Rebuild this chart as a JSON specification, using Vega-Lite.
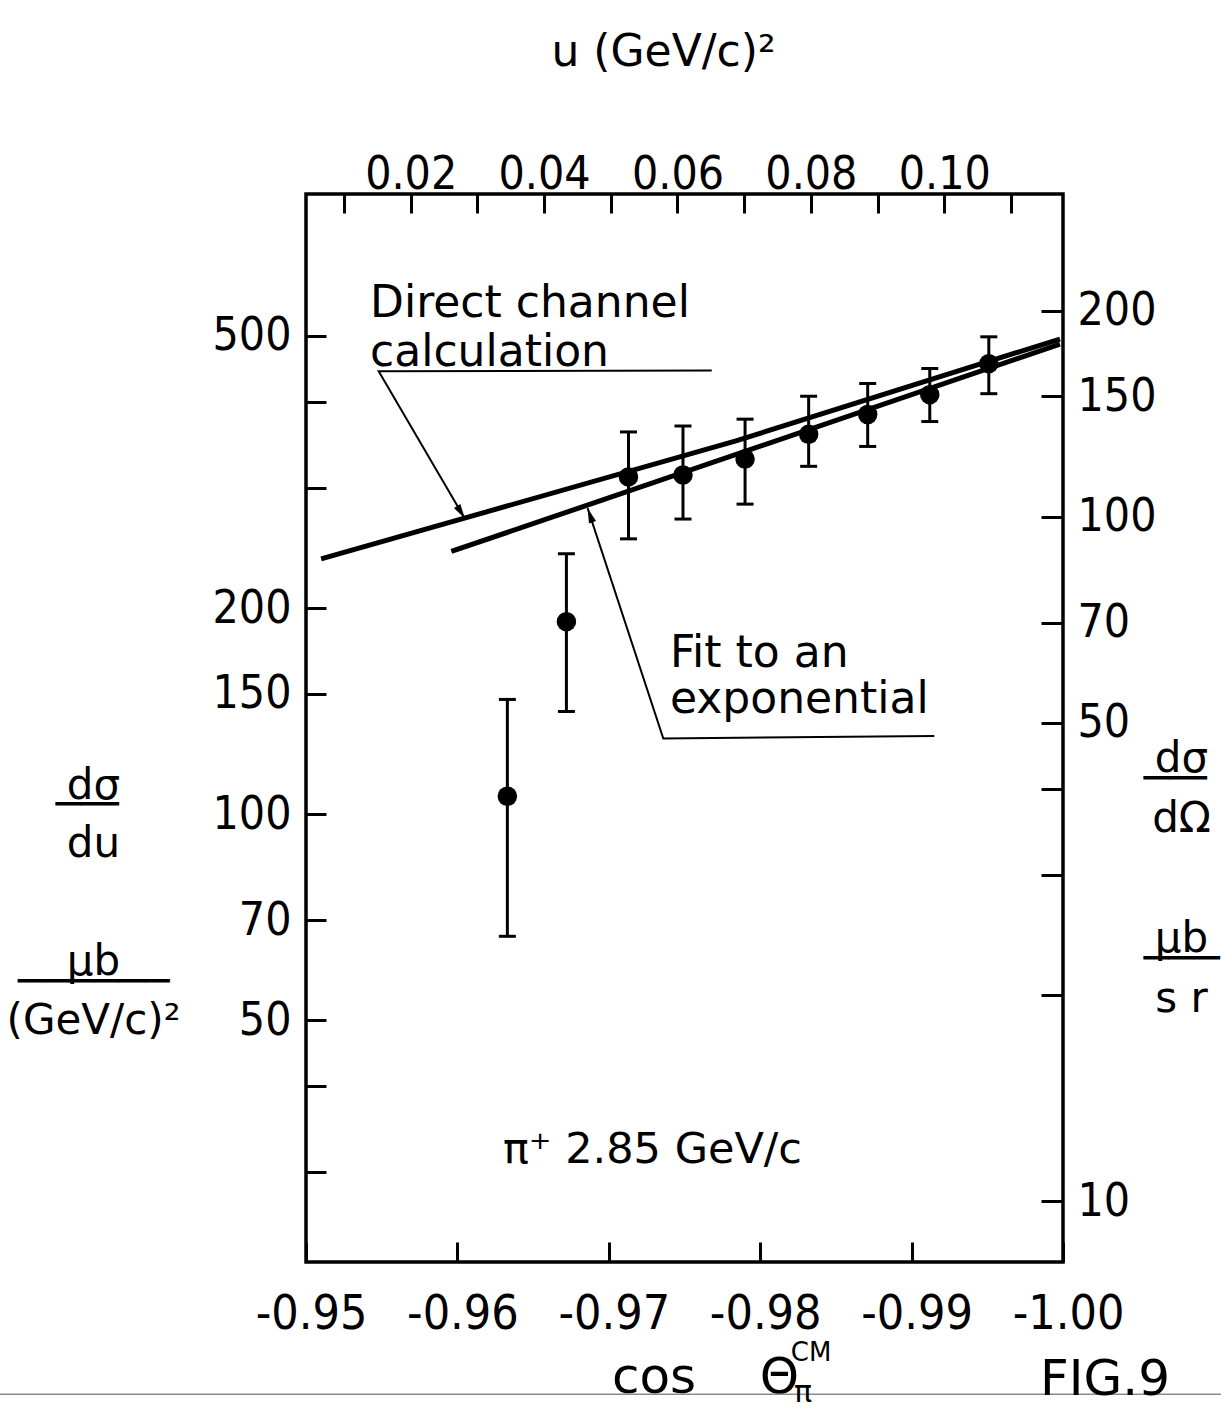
{
  "$schema": "https://vega.github.io/schema/vega-lite/v6.json",
  "width": 757,
  "height": 1068,
  "autosize": {"type": "none"},
  "padding": {"left": 306, "top": 194, "right": 158, "bottom": 148},
  "background": "white",
  "config": {
    "view": {"stroke": "black", "strokeWidth": 3.5},
    "axis": {
      "domain": false,
      "grid": false,
      "tickColor": "black",
      "tickWidth": 3,
      "labelColor": "black",
      "titleColor": "black",
      "labelFont": "DejaVu Sans Condensed, DejaVu Sans, sans-serif",
      "labelFontSize": 46,
      "labelFontWeight": "normal",
      "titleFont": "DejaVu Sans",
      "titleFontWeight": "normal",
      "labelOverlap": false,
      "labelFlush": false,
      "labelBound": false
    }
  },
  "datasets": {
    "points": [
      {"cos": -0.9633, "dsdu": 106.2, "lo": 66.3, "hi": 147.1},
      {"cos": -0.9672, "dsdu": 191.1, "lo": 141.2, "hi": 240.1},
      {"cos": -0.9713, "dsdu": 311.0, "lo": 252.5, "hi": 361.8},
      {"cos": -0.9749, "dsdu": 313.0, "lo": 269.9, "hi": 369.1},
      {"cos": -0.9790, "dsdu": 330.2, "lo": 283.8, "hi": 377.7},
      {"cos": -0.9832, "dsdu": 358.9, "lo": 322.3, "hi": 408.0},
      {"cos": -0.9871, "dsdu": 383.7, "lo": 344.6, "hi": 425.9},
      {"cos": -0.9912, "dsdu": 410.2, "lo": 374.7, "hi": 447.9},
      {"cos": -0.9951, "dsdu": 455.3, "lo": 411.5, "hi": 498.3}
    ],
    "curves": [
      {"curve": "Direct channel calculation", "cos": -0.9510, "dsdu": 236.0},
      {"curve": "Direct channel calculation", "cos": -0.9784, "dsdu": 351.1},
      {"curve": "Direct channel calculation", "cos": -0.9998, "dsdu": 494.6},
      {"curve": "Fit to an exponential", "cos": -0.9596, "dsdu": 242.0},
      {"curve": "Fit to an exponential", "cos": -0.9998, "dsdu": 486.2}
    ],
    "pointers": [
      {"ptr": "direct", "seq": 1, "cos": -0.9768, "dsdu": 444.9},
      {"ptr": "direct", "seq": 2, "cos": -0.9548, "dsdu": 443.9},
      {"ptr": "direct", "seq": 3, "cos": -0.9605, "dsdu": 270.1},
      {"ptr": "fit", "seq": 1, "cos": -0.9915, "dsdu": 130.1},
      {"ptr": "fit", "seq": 2, "cos": -0.9736, "dsdu": 129.0},
      {"ptr": "fit", "seq": 3, "cos": -0.9686, "dsdu": 280.0}
    ],
    "notes": [
      {"text": "Direct channel", "cos": -0.95423, "dsdu": 532.9},
      {"text": "calculation", "cos": -0.95423, "dsdu": 451.6},
      {"text": "Fit to an", "cos": -0.97404, "dsdu": 164.1},
      {"text": "exponential", "cos": -0.97404, "dsdu": 140.5}
    ],
    "beam": [
      {"text": "π⁺ 2.85 GeV/c", "cos": -0.96301, "dsdu": 30.93}
    ],
    "pageedge": [
      {"cos": -0.92979, "cos2": -1.01044, "dsdu": 14.2}
    ]
  },
  "layer": [
    {
      "data": {"name": "pageedge"},
      "mark": {"type": "rule", "color": "#8c8c8c", "strokeWidth": 1.5},
      "encoding": {
        "x": {"field": "cos", "type": "quantitative", "scale": {"domain": [-1.0, -0.95], "reverse": true, "nice": false, "zero": false}, "axis": null},
        "x2": {"field": "cos2"},
        "y": {"field": "dsdu", "type": "quantitative", "scale": {"type": "log", "domain": [22.16, 805.7], "nice": false}, "axis": null}
      }
    },
    {
      "data": {"name": "curves"},
      "mark": {"type": "line", "color": "black", "strokeWidth": 5},
      "encoding": {
        "x": {"field": "cos", "type": "quantitative", "scale": {"domain": [-1.0, -0.95], "reverse": true, "nice": false, "zero": false}, "axis": null},
        "y": {"field": "dsdu", "type": "quantitative", "scale": {"type": "log", "domain": [22.16, 805.7], "nice": false}, "axis": null},
        "detail": {"field": "curve"}
      }
    },
    {
      "data": {"name": "pointers"},
      "mark": {"type": "line", "color": "black", "strokeWidth": 2},
      "encoding": {
        "x": {"field": "cos", "type": "quantitative", "scale": {"domain": [-1.0, -0.95], "reverse": true, "nice": false, "zero": false}, "axis": null},
        "y": {"field": "dsdu", "type": "quantitative", "scale": {"type": "log", "domain": [22.16, 805.7], "nice": false}, "axis": null},
        "detail": {"field": "ptr"},
        "order": {"field": "seq", "type": "quantitative"}
      }
    },
    {
      "data": {"name": "pointers"},
      "transform": [{"filter": "datum.seq == 3 && datum.ptr == 'direct'"}],
      "mark": {"type": "point", "filled": true, "color": "black", "opacity": 1, "size": 225, "shape": "M0,0L0.5,2L-0.5,2Z", "angle": 148.6},
      "encoding": {
        "x": {"field": "cos", "type": "quantitative", "scale": {"domain": [-1.0, -0.95], "reverse": true, "nice": false, "zero": false}, "axis": null},
        "y": {"field": "dsdu", "type": "quantitative", "scale": {"type": "log", "domain": [22.16, 805.7], "nice": false}, "axis": null}
      }
    },
    {
      "data": {"name": "pointers"},
      "transform": [{"filter": "datum.seq == 3 && datum.ptr == 'fit'"}],
      "mark": {"type": "point", "filled": true, "color": "black", "opacity": 1, "size": 225, "shape": "M0,0L0.5,2L-0.5,2Z", "angle": 340.9},
      "encoding": {
        "x": {"field": "cos", "type": "quantitative", "scale": {"domain": [-1.0, -0.95], "reverse": true, "nice": false, "zero": false}, "axis": null},
        "y": {"field": "dsdu", "type": "quantitative", "scale": {"type": "log", "domain": [22.16, 805.7], "nice": false}, "axis": null}
      }
    },
    {
      "data": {"name": "points"},
      "mark": {"type": "rule", "color": "black", "strokeWidth": 3},
      "encoding": {
        "x": {"field": "cos", "type": "quantitative", "scale": {"domain": [-1.0, -0.95], "reverse": true, "nice": false, "zero": false}, "axis": null},
        "y": {"field": "lo", "type": "quantitative", "scale": {"type": "log", "domain": [22.16, 805.7], "nice": false}, "axis": null},
        "y2": {"field": "hi"}
      }
    },
    {
      "data": {"name": "points"},
      "mark": {"type": "tick", "orient": "horizontal", "color": "black", "size": 17, "thickness": 3, "opacity": 1},
      "encoding": {
        "x": {"field": "cos", "type": "quantitative", "scale": {"domain": [-1.0, -0.95], "reverse": true, "nice": false, "zero": false}, "axis": null},
        "y": {"field": "lo", "type": "quantitative", "scale": {"type": "log", "domain": [22.16, 805.7], "nice": false}, "axis": null}
      }
    },
    {
      "data": {"name": "points"},
      "mark": {"type": "tick", "orient": "horizontal", "color": "black", "size": 17, "thickness": 3, "opacity": 1},
      "encoding": {
        "x": {"field": "cos", "type": "quantitative", "scale": {"domain": [-1.0, -0.95], "reverse": true, "nice": false, "zero": false}, "axis": null},
        "y": {"field": "hi", "type": "quantitative", "scale": {"type": "log", "domain": [22.16, 805.7], "nice": false}, "axis": null}
      }
    },
    {
      "data": {"name": "points"},
      "mark": {"type": "point", "filled": true, "color": "black", "opacity": 1, "size": 380, "shape": "circle"},
      "encoding": {
        "x": {
          "field": "cos", "type": "quantitative",
          "scale": {"domain": [-1.0, -0.95], "reverse": true, "nice": false, "zero": false},
          "axis": {
            "orient": "bottom",
            "values": [-0.95, -0.96, -0.97, -0.98, -0.99, -1.0],
            "tickSize": -20,
            "labelPadding": 86,
            "labelBaseline": "alphabetic",
            "labelAlign": "center",
            "labelOffset": 5,
            "labelFontSize": 48,
            "labelExpr": "'-' + format(abs(datum.value), '.2f')",
            "title": "cos\u00a0\u00a0\u00a0\u00a0Θ",
            "titleFontSize": 50,
            "titleX": 399,
            "titleY": 130,
            "titleAlign": "center",
            "titleBaseline": "alphabetic",
            "titleAngle": 0
          }
        },
        "y": {
          "field": "dsdu", "type": "quantitative",
          "scale": {"type": "log", "domain": [22.16, 805.7], "nice": false},
          "axis": {
            "orient": "left",
            "values": [30, 40, 50, 70, 100, 150, 200, 300, 400, 500],
            "tickSize": -20,
            "labelPadding": 35,
            "labelAlign": "right",
            "labelBaseline": "middle",
            "labelExpr": "indexof([50, 70, 100, 150, 200, 500], datum.value) >= 0 ? format(datum.value, 'd') : ''",
            "title": ["dσ", "──╴", "\u2800", "du", "\u2800", "\u2800", "\u2800", "\u2800", "\u2800", "μb", "──────", "\u2800", "(GeV/c)²"],
            "titleAngle": 0,
            "titleFontSize": 42,
            "titleLineHeight": 19.6,
            "titleX": -213,
            "titleY": 604,
            "titleAlign": "center",
            "titleBaseline": "alphabetic"
          }
        }
      }
    },
    {
      "data": {"name": "notes"},
      "mark": {"type": "text", "align": "left", "baseline": "alphabetic", "font": "DejaVu Sans", "fontSize": 44, "color": "black"},
      "encoding": {
        "x": {"field": "cos", "type": "quantitative", "scale": {"domain": [-1.0, -0.95], "reverse": true, "nice": false, "zero": false}, "axis": null},
        "y": {"field": "dsdu", "type": "quantitative", "scale": {"type": "log", "domain": [22.16, 805.7], "nice": false}, "axis": null},
        "text": {"field": "text"}
      }
    },
    {
      "data": {"name": "beam"},
      "mark": {"type": "text", "align": "left", "baseline": "alphabetic", "font": "DejaVu Sans", "fontSize": 43, "color": "black"},
      "encoding": {
        "x": {"field": "cos", "type": "quantitative", "scale": {"domain": [-1.0, -0.95], "reverse": true, "nice": false, "zero": false}, "axis": null},
        "y": {"field": "dsdu", "type": "quantitative", "scale": {"type": "log", "domain": [22.16, 805.7], "nice": false}, "axis": null},
        "text": {"field": "text"}
      }
    },
    {
      "data": {"values": [{}]},
      "mark": {"type": "text", "align": "center", "baseline": "alphabetic", "font": "DejaVu Sans", "fontSize": 26, "color": "black", "dy": 99, "text": "CM"},
      "encoding": {
        "x": {"datum": -0.98336, "type": "quantitative", "scale": {"domain": [-1.0, -0.95], "reverse": true, "nice": false, "zero": false}, "axis": null},
        "y": {"datum": 22.16, "type": "quantitative", "scale": {"type": "log", "domain": [22.16, 805.7], "nice": false}, "axis": null}
      }
    },
    {
      "data": {"values": [{}]},
      "mark": {"type": "text", "align": "center", "baseline": "alphabetic", "font": "DejaVu Sans", "fontSize": 30, "color": "black", "dy": 140, "text": "π"},
      "encoding": {
        "x": {"datum": -0.98283, "type": "quantitative", "scale": {"domain": [-1.0, -0.95], "reverse": true, "nice": false, "zero": false}, "axis": null},
        "y": {"datum": 22.16, "type": "quantitative", "scale": {"type": "log", "domain": [22.16, 805.7], "nice": false}, "axis": null}
      }
    },
    {
      "data": {"values": [{}]},
      "mark": {"type": "text", "align": "left", "baseline": "alphabetic", "font": "DejaVu Sans", "fontSize": 50, "color": "black", "dy": 133, "text": "FIG.9"},
      "encoding": {
        "x": {"datum": -0.99848, "type": "quantitative", "scale": {"domain": [-1.0, -0.95], "reverse": true, "nice": false, "zero": false}, "axis": null},
        "y": {"datum": 22.16, "type": "quantitative", "scale": {"type": "log", "domain": [22.16, 805.7], "nice": false}, "axis": null}
      }
    },
    {
      "data": {"values": [{"u": 0.06, "dsdo": 50}]},
      "mark": {"type": "point", "opacity": 0},
      "encoding": {
        "x": {
          "field": "u", "type": "quantitative",
          "scale": {"domain": [0.0043, 0.1178], "nice": false, "zero": false},
          "axis": {
            "orient": "top",
            "values": [0.01, 0.02, 0.03, 0.04, 0.05, 0.06, 0.07, 0.08, 0.09, 0.10, 0.11],
            "tickSize": -19,
            "labelPadding": 25,
            "labelBaseline": "alphabetic",
            "labelAlign": "center",
            "labelOffset": 0,
            "labelFontSize": 46,
            "labelExpr": "indexof(['0.02', '0.04', '0.06', '0.08', '0.10'], format(datum.value, '.2f')) >= 0 ? format(datum.value, '.2f') : ''",
            "title": "u (GeV/c)²",
            "titleFontSize": 44,
            "titleX": 357,
            "titleY": -129,
            "titleAlign": "center",
            "titleBaseline": "alphabetic",
            "titleAngle": 0
          }
        },
        "y": {
          "field": "dsdo", "type": "quantitative",
          "scale": {"type": "log", "domain": [8.147, 296.2], "nice": false},
          "axis": {
            "orient": "right",
            "values": [10, 20, 30, 40, 50, 70, 100, 150, 200],
            "tickSize": -22,
            "labelPadding": 36,
            "labelAlign": "left",
            "labelBaseline": "middle",
            "labelFontSize": 46,
            "labelExpr": "indexof([10, 50, 70, 100, 150, 200], datum.value) >= 0 ? format(datum.value, 'd') : ''",
            "title": ["dσ", "──╴", "\u2800", "dΩ", "\u2800", "\u2800", "\u2800", "\u2800", "\u2800", "μb", "───", "\u2800", "s r"],
            "titleAngle": 0,
            "titleFontSize": 42,
            "titleLineHeight": 20,
            "titleX": 118,
            "titleY": 577,
            "titleAlign": "center",
            "titleBaseline": "alphabetic"
          }
        }
      }
    }
  ],
  "resolve": {"scale": {"x": "independent", "y": "independent"}}
}
